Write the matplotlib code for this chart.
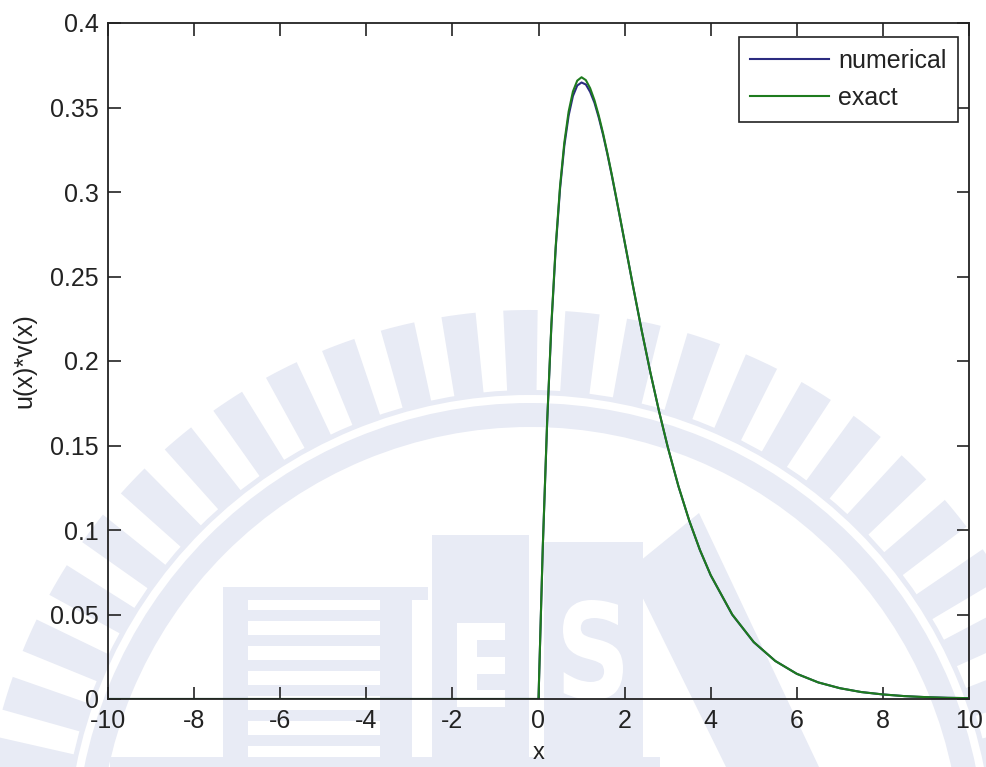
import matplotlib
matplotlib.use("Agg")
import matplotlib.pyplot as plt
from matplotlib.patches import Wedge, Rectangle, Polygon, PathPatch
from matplotlib.textpath import TextPath
from matplotlib.font_manager import FontProperties
from matplotlib.transforms import Affine2D

# data
x_vals = [-10.0, 0.0, 0.1, 0.2, 0.3, 0.4, 0.5, 0.6, 0.7, 0.8, 0.9, 1.0, 1.1, 1.2, 1.3, 1.4,
          1.5, 1.6, 1.7, 1.8, 1.9, 2.0, 2.2, 2.4, 2.6, 2.8, 3.0, 3.25, 3.5, 3.75, 4.0,
          4.5, 5.0, 5.5, 6.0, 6.5, 7.0, 7.5, 8.0, 8.5, 9.0, 9.5, 10.0]
exact = [0.0, 0.0, 0.0905, 0.1637, 0.2222, 0.2681, 0.3033, 0.3293, 0.3476, 0.3595, 0.3659,
         0.3679, 0.3662, 0.3614, 0.3543, 0.3452, 0.3347, 0.3230, 0.3106, 0.2975, 0.2842,
         0.2707, 0.2438, 0.2177, 0.1931, 0.1703, 0.1494, 0.1260, 0.1057, 0.0882, 0.0733,
         0.0500, 0.0337, 0.0225, 0.0149, 0.0098, 0.0064, 0.0041, 0.0027, 0.0017, 0.0011,
         0.0007, 0.0005]
numerical = [0.0, 0.0, 0.0900, 0.1630, 0.2212, 0.2668, 0.3018, 0.3274, 0.3452, 0.3568, 0.3630,
             0.3648, 0.3636, 0.3592, 0.3528, 0.3440, 0.3338, 0.3224, 0.3101, 0.2971, 0.2839,
             0.2705, 0.2437, 0.2176, 0.1930, 0.1702, 0.1493, 0.1259, 0.1056, 0.0881, 0.0732,
             0.0499, 0.0336, 0.0225, 0.0149, 0.0098, 0.0064, 0.0041, 0.0027, 0.0017, 0.0011,
             0.0007, 0.0005]
x_ticks = [-10, -8, -6, -4, -2, 0, 2, 4, 6, 8, 10]
y_ticks = [0, 0.05, 0.1, 0.15, 0.2, 0.25, 0.3, 0.35, 0.4]
y_tick_labels = ["0", "0.05", "0.1", "0.15", "0.2", "0.25", "0.3", "0.35", "0.4"]

plt.rcParams['font.family'] = ['Liberation Sans', 'DejaVu Sans']

W, H = 986, 767
fig = plt.figure(figsize=(W / 100, H / 100), dpi=100, facecolor='white')

# ---- faint background watermark (pixel coordinates, y measured upward) ----
wm = fig.add_axes([0, 0, 1, 1], zorder=0)
wm.set_xlim(0, W)
wm.set_ylim(0, H)
wm.axis('off')
wcol = '#e8ebf5'
cx, cy = 530, H - 858
wm.add_patch(Wedge((cx, cy), 468, 0, 360, width=5, color=wcol, lw=0))
wm.add_patch(Wedge((cx, cy), 455, 0, 360, width=24, color=wcol, lw=0))
ang = 91.0 - 6.5 * 12
while ang < 200:
    wm.add_patch(Wedge((cx, cy), 548, ang - 1.8, ang + 1.8, width=82, color=wcol, lw=0))
    ang += 6.5

def rect(x0, y0, x1, y1, c=wcol):
    wm.add_patch(Rectangle((x0, H - y1), x1 - x0, y1 - y0, color=c, lw=0))

rect(223, 587, 428, 600)
rect(223, 587, 248, 767)
for s in [610, 635, 660, 685, 710, 735, 760]:
    rect(248, s, 380, s + 11)
rect(380, 587, 412, 767)
rect(432, 535, 529, 767)
rect(457, 623, 477, 707, 'white')
for s in [623, 657, 690]:
    rect(457, s, 505, s + 17, 'white')
rect(544, 542, 643, 767)
sp = TextPath((0, 0), 'S', size=130, prop=FontProperties(family='DejaVu Sans', weight='bold'))
bb = sp.get_extents()
tr = Affine2D().translate(-(bb.x0 + bb.x1) / 2, -(bb.y0 + bb.y1) / 2) \
    .scale(60 / bb.width, 100 / bb.height).translate(593, H - 650)
wm.add_patch(PathPatch(tr.transform_path(sp), color='white', lw=0))
rect(110, 757, 660, 767)
wm.add_patch(Polygon([(699, H - 513), (819, 0), (726, 0), (629, H - 570)],
                     closed=True, color=wcol, lw=0))

# ---- main axes ----
left, right, top, bottom = 108, 969, 23, 699
ax = fig.add_axes([left / W, 1 - bottom / H, (right - left) / W, (bottom - top) / H],
                  zorder=1)
ax.set_facecolor('none')

ax.plot(x_vals, numerical, color='#2b2b80', lw=1.5, label='numerical')
ax.plot(x_vals, exact, color='#1e7b1e', lw=1.5, label='exact')

ax.set_xlim(-10, 10)
ax.set_ylim(0, 0.4)
ax.set_xticks(x_ticks)
ax.set_xticklabels([str(t) for t in x_ticks])
ax.set_yticks(y_ticks)
ax.set_yticklabels(y_tick_labels)
ax.tick_params(direction='in', length=9, width=1.2, top=True, right=True,
               labelsize=18, colors='#222222')
ax.tick_params(axis='y', pad=6.5)
ax.tick_params(axis='x', pad=7.5)
for s in ax.spines.values():
    s.set_linewidth(1.3)
    s.set_color('#222222')
ax.set_xlabel('x', fontsize=17, labelpad=6.5, color='#222222')
ax.set_ylabel('u(x)*v(x)', fontsize=18, labelpad=10, color='#222222')

bx = (958 - left) / (right - left)
by = (bottom - 37) / (bottom - top)
leg = ax.legend(loc='upper right', bbox_to_anchor=(bx, by), borderaxespad=0,
                fontsize=18, frameon=True, fancybox=False, framealpha=1,
                edgecolor='#222222', handlelength=3.15, handletextpad=0.36,
                labelspacing=0.54, borderpad=0.46)
leg.get_frame().set_linewidth(1.2)
for t in leg.get_texts():
    t.set_color('#222222')

fig.savefig('out.png', dpi=100, facecolor='white')
